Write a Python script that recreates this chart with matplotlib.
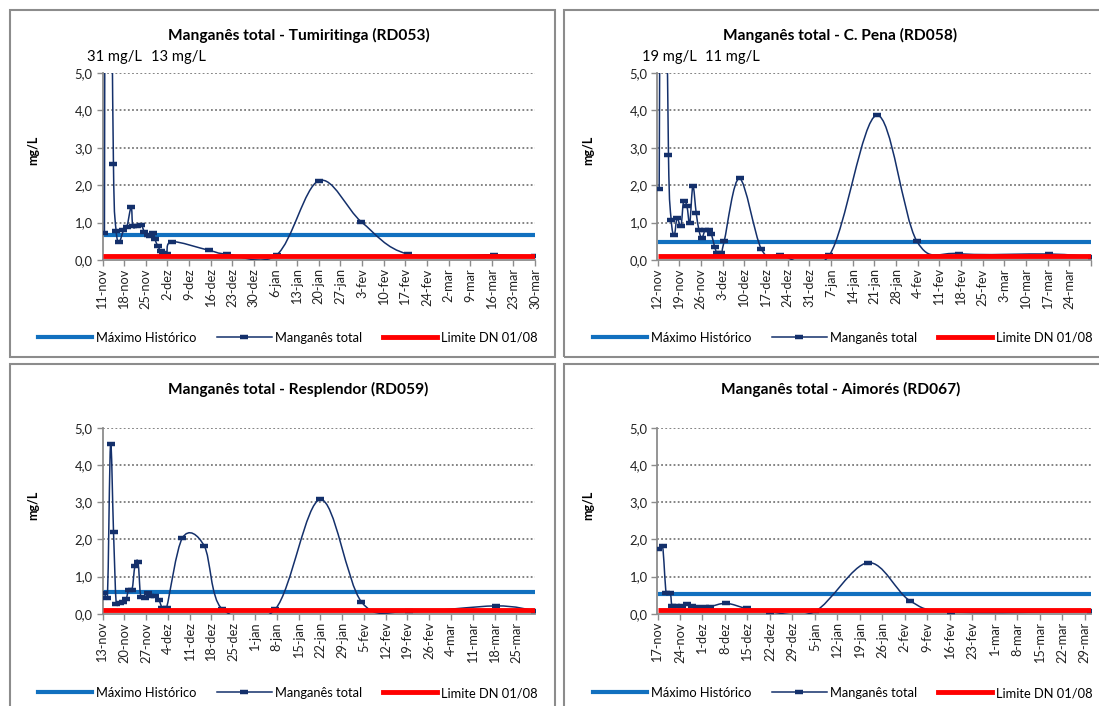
import numpy as np
import pandas as pd
import matplotlib
matplotlib.use("Agg")
import matplotlib.pyplot as plt
import matplotlib.dates as mdates
from matplotlib.path import Path
from matplotlib.patches import PathPatch, Rectangle
from matplotlib.lines import Line2D

plt.rcParams["font.family"] = ["Lato", "DejaVu Sans"]

# ---- data (mg/L) ----
titles = [
    "Manganês total - Tumiritinga (RD053)",
    "Manganês total - C. Pena (RD058)",
    "Manganês total - Resplendor (RD059)",
    "Manganês total - Aimorés (RD067)",
]

rd053_dates = ["2015-11-11 15:00", "2015-11-12 12:00", "2015-11-13 12:00", "2015-11-14 13:00",
               "2015-11-15 10:00", "2015-11-16 10:00", "2015-11-17 19:00", "2015-11-18 21:00",
               "2015-11-20 07:00", "2015-11-20 19:00", "2015-11-22 02:00", "2015-11-23 12:00",
               "2015-11-24 14:00", "2015-11-25 17:00", "2015-11-26 10:00", "2015-11-27 12:00",
               "2015-11-28 00:00", "2015-11-28 22:00", "2015-11-29 22:00", "2015-11-30 17:00",
               "2015-12-01 19:00", "2015-12-03 10:00", "2015-12-15 10:00", "2015-12-21 05:00",
               "2016-01-06 10:00", "2016-01-20 00:00", "2016-02-02 19:00", "2016-02-17 19:00",
               "2016-03-16 14:00", "2016-03-30 00:00"]
rd053_mn = [0.72, 31.0, 13.0, 2.58, 0.78, 0.49, 0.79, 0.88, 1.42, 0.90, 0.90, 0.94,
            0.75, 0.68, 0.64, 0.73, 0.55, 0.37, 0.23, 0.18, 0.15, 0.49, 0.26, 0.16,
            0.14, 2.12, 1.02, 0.16, 0.14, 0.10]

rd058_dates = ["2015-11-12 13:00", "2015-11-13 12:00", "2015-11-14 12:00", "2015-11-15 13:00",
               "2015-11-16 10:00", "2015-11-17 10:00", "2015-11-18 07:00", "2015-11-19 14:00",
               "2015-11-20 10:00", "2015-11-21 12:00", "2015-11-22 10:00", "2015-11-23 10:00",
               "2015-11-24 12:00", "2015-11-25 10:00", "2015-11-26 07:00", "2015-11-27 10:00",
               "2015-11-28 12:00", "2015-11-29 10:00", "2015-11-30 10:00", "2015-12-01 05:00",
               "2015-12-02 14:00", "2015-12-03 14:00", "2015-12-08 12:00", "2015-12-15 12:00",
               "2015-12-21 14:00", "2016-01-06 12:00", "2016-01-21 19:00", "2016-02-03 17:00",
               "2016-02-17 12:00", "2016-03-17 10:00", "2016-03-31 07:00"]
rd058_mn = [1.89, 19.0, 11.0, 2.82, 1.08, 0.66, 1.11, 0.92, 1.57, 1.44, 0.99, 1.98,
            1.25, 0.79, 0.58, 0.81, 0.81, 0.69, 0.36, 0.20, 0.18, 0.52, 2.18, 0.30,
            0.13, 0.13, 3.87, 0.51, 0.17, 0.16, 0.09]

rd059_dates = ["2015-11-13 13:00", "2015-11-14 14:00", "2015-11-15 14:00", "2015-11-16 13:00",
               "2015-11-17 10:00", "2015-11-18 12:00", "2015-11-19 12:00", "2015-11-20 14:00",
               "2015-11-21 10:00", "2015-11-22 12:00", "2015-11-23 10:00", "2015-11-24 10:00",
               "2015-11-25 07:00", "2015-11-26 14:00", "2015-11-27 14:00", "2015-11-28 10:00",
               "2015-11-30 00:00", "2015-12-01 02:00", "2015-12-02 05:00", "2015-12-03 14:00",
               "2015-12-08 17:00", "2015-12-15 17:00", "2015-12-21 10:00", "2016-01-07 12:00",
               "2016-01-22 00:00", "2016-02-04 05:00", "2016-02-19 12:00", "2016-03-18 10:00",
               "2016-03-31 00:00"]
rd059_mn = [0.56, 0.43, 4.55, 2.19, 0.26, 0.28, 0.32, 0.39, 0.65, 0.65, 1.28, 1.38,
            0.46, 0.43, 0.56, 0.48, 0.47, 0.38, 0.16, 0.16, 2.04, 1.82, 0.13, 0.12,
            3.07, 0.32, 0.06, 0.21, 0.08]

rd067_dates = ["2015-11-17 07:00", "2015-11-18 14:00", "2015-11-19 17:00", "2015-11-21 00:00",
               "2015-11-21 12:00", "2015-11-22 19:00", "2015-11-24 14:00", "2015-11-26 07:00",
               "2015-11-27 17:00", "2015-11-29 07:00", "2015-12-01 22:00", "2015-12-03 10:00",
               "2015-12-08 10:00", "2015-12-14 19:00", "2015-12-22 00:00", "2016-01-05 00:00",
               "2016-01-21 12:00", "2016-02-03 14:00", "2016-02-16 12:00", "2016-03-31 00:00"]
rd067_mn = [1.73, 1.81, 0.55, 0.55, 0.21, 0.21, 0.21, 0.25, 0.22, 0.19, 0.19, 0.19,
            0.28, 0.14, 0.05, 0.06, 1.37, 0.35, 0.05, 0.06]

max_historico = [0.68, 0.48, 0.59, 0.54]
limite_dn = 0.1
off_scale_notes = [["31 mg/L", "13 mg/L"], ["19 mg/L", "11 mg/L"], [], []]

tick_start = ["2015-11-11", "2015-11-12", "2015-11-13", "2015-11-17"]
tick_end = ["2016-03-30", "2016-03-24", "2016-03-25", "2016-03-29"]
axis_end = ["2016-03-30", "2016-03-31", "2016-03-31", "2016-03-31"]
meses = ["jan", "fev", "mar", "abr", "mai", "jun", "jul", "ago", "set", "out", "nov", "dez"]

series_dates = [rd053_dates, rd058_dates, rd059_dates, rd067_dates]
series_mn = [rd053_mn, rd058_mn, rd059_mn, rd067_mn]

# ---- styling ----
NAVY = "#14306b"
BLUE = "#1170bf"
RED = "#ff0000"
GRAY = "#8c8c8c"
W, H = 1099, 706

# panel geometry in pixels: (axes left, right, top, bottom), frame (x0, y0, x1, y1)
axes_px = [(102.5, 535, 73, 260), (657.5, 1091, 73, 260),
           (102.5, 535, 427.7, 613.7), (657.5, 1091, 427.7, 613.7)]
frames_px = [(9.5, 10, 555, 357), (564, 10, 1110, 357),
             (9.5, 364, 555, 720), (564, 364, 1110, 720)]


def smooth_path(x, y, sx, sy, cap=1.0):
    """Smoothed line (Bezier through the points, 1/6 tangents), with each
    control arm capped to a fraction of its segment's on-screen length."""
    pts = np.column_stack([x, y])
    scale = np.array([sx, sy])
    n = len(pts)
    seg = np.hypot(*(np.diff(pts, axis=0) * scale).T)
    verts = [pts[0]]
    codes = [Path.MOVETO]

    def arm(i, d):
        a = pts[i - 1] if i > 0 else pts[i]
        c = pts[i + 1] if i < n - 1 else pts[i]
        v = (c - a) / 6.0
        length = np.hypot(*(v * scale))
        if length > cap * d and length > 0:
            v = v * (cap * d / length)
        return v

    for i in range(n - 1):
        d = seg[i]
        verts += [pts[i] + arm(i, d), pts[i + 1] - arm(i + 1, d), pts[i + 1]]
        codes += [Path.CURVE4] * 3
    return Path(verts, codes)


fig = plt.figure(figsize=(W / 100, H / 100), dpi=100)

for k in range(4):
    fx0, fy0, fx1, fy1 = frames_px[k]
    fig.patches.append(Rectangle((fx0 / W, 1 - fy1 / H), (fx1 - fx0) / W, (fy1 - fy0) / H,
                                 transform=fig.transFigure, fill=False, ec=GRAY, lw=1.5))

    l, r, t, b = axes_px[k]
    ax = fig.add_axes([l / W, 1 - b / H, (r - l) / W, (b - t) / H])

    dates = pd.to_datetime(series_dates[k])
    xnum = mdates.date2num(dates)
    vals = np.array(series_mn[k])
    x0 = mdates.date2num(pd.Timestamp(tick_start[k]))
    x1 = mdates.date2num(pd.Timestamp(axis_end[k]))
    sx = (r - l) / (x1 - x0)
    sy = (b - t) / 5.0

    ax.plot([x0, x1], [max_historico[k]] * 2, color=BLUE, lw=3.0, solid_capstyle="butt", zorder=2)
    ax.add_patch(PathPatch(smooth_path(xnum, vals, sx, sy), fill=False, ec=NAVY, lw=1.1, zorder=3))
    ax.plot(xnum, vals, ls="none", marker="_", ms=6, mew=3.2, color=NAVY, zorder=4)
    ax.plot([x0, x1], [limite_dn] * 2, color=RED, lw=3.5, solid_capstyle="butt", zorder=5)

    ax.set_xlim(x0, x1)
    ax.set_ylim(0, 5)
    ticks = pd.date_range(tick_start[k], axis_end[k], freq="7D")
    ax.set_xticks(mdates.date2num(ticks))
    labels = [f"{d.day}-{meses[d.month - 1]}" if d <= pd.Timestamp(tick_end[k]) else "" for d in ticks]
    ax.set_xticklabels(labels, rotation=90, fontsize=9.2)
    ax.set_yticks(range(6))
    ax.set_yticklabels([f"{v},0" for v in range(6)], fontsize=9.4)
    for v in range(1, 6):
        ax.axhline(v, color="#7a7a7a", lw=1.3, ls=(0, (1, 1.3)), zorder=1)

    for s in ["top", "right"]:
        ax.spines[s].set_visible(False)
    for s in ["left", "bottom"]:
        ax.spines[s].set_color(GRAY)
        ax.spines[s].set_linewidth(1.3)
    ax.tick_params(axis="both", colors=GRAY, length=4, width=1.0, labelcolor="#222222")
    ax.tick_params(axis="x", pad=2)
    ax.tick_params(axis="y", pad=3)

    title_x = 298.5 if k % 2 == 0 else 840.5
    title_y = 35 if k < 2 else 389
    fig.text(title_x / W, 1 - title_y / H, titles[k], fontsize=11.2, fontweight="bold",
             ha="center", va="center")

    label_x = 33 if k % 2 == 0 else 588
    label_y = 150 if k < 2 else 505
    fig.text(label_x / W, 1 - label_y / H, "mg/L", rotation=90, fontsize=9, fontweight="bold",
             ha="center", va="center")

    if off_scale_notes[k]:
        note_x = [87, 151] if k % 2 == 0 else [642, 705]
        for txt, nx in zip(off_scale_notes[k], note_x):
            fig.text(nx / W, 1 - 57 / H, txt, fontsize=10.6, ha="left", va="center")

    handles = [
        Line2D([], [], color=BLUE, lw=3.0),
        Line2D([], [], color=NAVY, lw=1.1, marker="_", ms=6, mew=3.2),
        Line2D([], [], color=RED, lw=3.5),
    ]
    leg_cx = 288 if k % 2 == 0 else 843
    leg_cy = 338 if k < 2 else 693
    fig.legend(handles, ["Máximo Histórico", "Manganês total", "Limite DN 01/08"],
               loc="center", bbox_to_anchor=(leg_cx / W, 1 - leg_cy / H), ncol=3,
               frameon=False, fontsize=9.3, handlelength=4.2, handletextpad=0.3,
               columnspacing=1.6, borderpad=0)

fig.savefig("out.png", dpi=100)
